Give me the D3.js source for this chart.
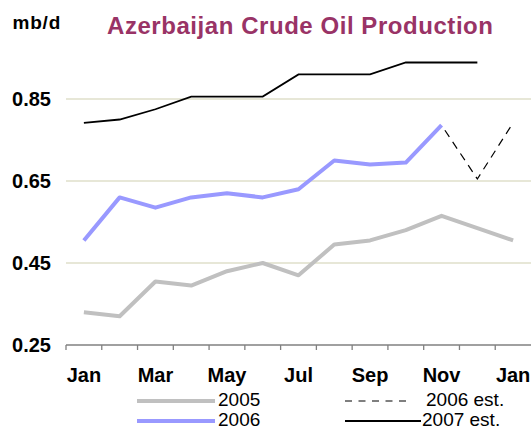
<!DOCTYPE html>
<html><head><meta charset="utf-8">
<script src="https://cdn.jsdelivr.net/npm/d3@7"></script>
<style>body{margin:0;background:#fff}svg{display:block}text{font-family:Arial,"Liberation Sans",sans-serif}</style>
</head><body>
<svg id="c" width="531" height="429"></svg>
<script>
const months = ["Jan","Feb","Mar","Apr","May","Jun","Jul","Aug","Sep","Oct","Nov","Dec","Jan"];
const tickLabels = ["Jan","","Mar","","May","","Jul","","Sep","","Nov","","Jan"];
const yTicks = [0.25, 0.45, 0.65, 0.85];
const s2005 = [0.33, 0.32, 0.405, 0.395, 0.43, 0.45, 0.42, 0.495, 0.505, 0.53, 0.565, 0.535, 0.505];
const s2006 = [0.505, 0.61, 0.585, 0.61, 0.62, 0.61, 0.63, 0.70, 0.69, 0.695, 0.786];
const s2006est = [null, null, null, null, null, null, null, null, null, null, 0.786, 0.655, 0.792];
const s2007est = [0.792, 0.80, 0.825, 0.856, 0.856, 0.856, 0.91, 0.91, 0.91, 0.939, 0.939, 0.939];

const svg = d3.select("#c");
const x = d3.scaleBand().domain(d3.range(months.length)).range([66, 531]).padding(0);
const y = d3.scaleLinear().domain([0.25, 1.05]).range([345, 17]);
const cx = i => x(i) + x.bandwidth() / 2;

// gridlines
svg.append("g").selectAll("line").data(yTicks.filter(v => v > 0.25)).join("line")
  .attr("x1", 66).attr("x2", 531).attr("y1", d => y(d)).attr("y2", d => y(d))
  .attr("stroke", "#cfd0b0").attr("stroke-width", 1.2);

// y labels
svg.append("g").selectAll("text").data(yTicks).join("text")
  .attr("x", 51).attr("y", d => y(d) + 7).attr("text-anchor", "end")
  .attr("font-size", 20).attr("font-weight", "bold").attr("fill", "#000")
  .text(d => d.toFixed(2));

// x axis
svg.append("line").attr("x1", 66).attr("x2", 531).attr("y1", 345).attr("y2", 345)
  .attr("stroke", "#808080").attr("stroke-width", 1.5);
svg.append("g").selectAll("line").data(d3.range(months.length)).join("line")
  .attr("x1", d => x(d)).attr("x2", d => x(d)).attr("y1", 345).attr("y2", 350)
  .attr("stroke", "#808080").attr("stroke-width", 1.3);
svg.append("g").selectAll("text").data(tickLabels).join("text")
  .attr("x", (d, i) => cx(i)).attr("y", 382).attr("text-anchor", "middle")
  .attr("font-size", 20).attr("font-weight", "bold").attr("fill", "#000")
  .text(d => d);

const line = d3.line().defined(d => d != null).x((d, i) => cx(i)).y(d => y(d));

svg.append("path").attr("d", line(s2005)).attr("fill", "none")
  .attr("stroke", "#c0c0c0").attr("stroke-width", 4).attr("stroke-linejoin", "round");
svg.append("path").attr("d", line(s2006)).attr("fill", "none")
  .attr("stroke", "#9999ff").attr("stroke-width", 4).attr("stroke-linejoin", "round");
svg.append("path").attr("d", line(s2006est)).attr("fill", "none")
  .attr("stroke", "#000").attr("stroke-width", 1.2)
  .attr("stroke-dasharray", "8,6").attr("stroke-dashoffset", -6);
svg.append("path").attr("d", line(s2007est)).attr("fill", "none")
  .attr("stroke", "#000").attr("stroke-width", 1.8);

// titles
svg.append("text").attr("x", 107).attr("y", 34).attr("font-size", 24).attr("font-weight", "bold")
  .attr("fill", "#993366").attr("textLength", 386).attr("lengthAdjust", "spacing")
  .text("Azerbaijan Crude Oil Production");
svg.append("text").attr("x", 12.5).attr("y", 29).attr("font-size", 19).attr("font-weight", "bold")
  .attr("fill", "#000").attr("letter-spacing", 0.8)
  .text("mb/d");

// legend
const leg = svg.append("g");
leg.append("line").attr("x1", 137).attr("x2", 215).attr("y1", 401).attr("y2", 401)
  .attr("stroke", "#c0c0c0").attr("stroke-width", 4);
leg.append("line").attr("x1", 137).attr("x2", 215).attr("y1", 421).attr("y2", 421)
  .attr("stroke", "#9999ff").attr("stroke-width", 4);
leg.append("line").attr("x1", 345).attr("x2", 411).attr("y1", 401).attr("y2", 401)
  .attr("stroke", "#000").attr("stroke-width", 1.2).attr("stroke-dasharray", "7,6.5");
leg.append("line").attr("x1", 345).attr("x2", 421).attr("y1", 421).attr("y2", 421)
  .attr("stroke", "#000").attr("stroke-width", 2);
const legText = [["2005", 218, 406], ["2006", 218, 426], ["2006 est.", 426, 406], ["2007 est.", 422, 426]];
leg.selectAll("text").data(legText).join("text")
  .attr("x", d => d[1]).attr("y", d => d[2]).attr("font-size", 19).attr("fill", "#000")
  .text(d => d[0]);
</script>
</body></html>
